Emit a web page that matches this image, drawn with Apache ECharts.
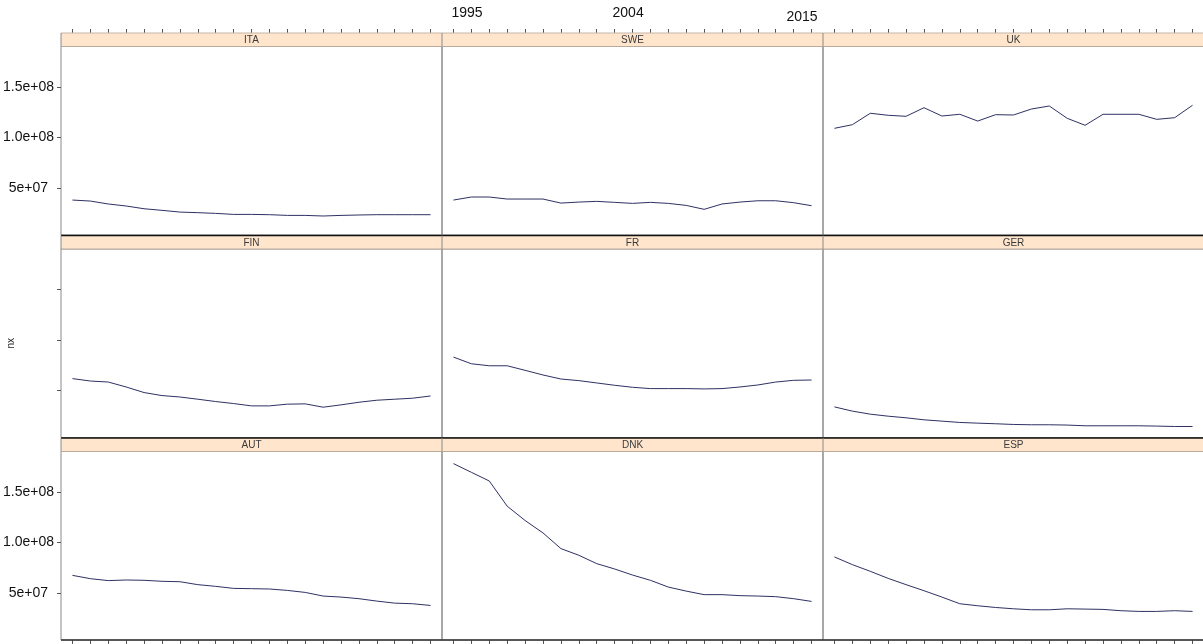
<!DOCTYPE html>
<html>
<head>
<meta charset="utf-8">
<script src="https://cdn.jsdelivr.net/npm/echarts@6/dist/echarts.min.js"></script>
<style>
  html, body { margin: 0; padding: 0; background: #ffffff; }
  #chart { width: 1203px; height: 644px; }
</style>
</head>
<body>
<div id="chart"></div>
<script>
// Yearly nx per country, in millions, 1995-2015
const years = [1995, 1996, 1997, 1998, 1999, 2000, 2001, 2002, 2003, 2004, 2005,
               2006, 2007, 2008, 2009, 2010, 2011, 2012, 2013, 2014, 2015];
const countries = ['ITA', 'SWE', 'UK', 'FIN', 'FR', 'GER', 'AUT', 'DNK', 'ESP'];

const ITA = [38.1, 37.1, 34.2, 32.2, 29.5, 27.9, 26.2, 25.6, 24.9, 23.9, 23.9,
             23.6, 22.9, 22.9, 22.3, 22.9, 23.3, 23.6, 23.6, 23.6, 23.6];
const SWE = [38.1, 41.1, 41.1, 39.1, 39.1, 39.1, 35.1, 36.1, 36.8, 35.8, 34.8,
             35.8, 34.8, 32.8, 28.9, 34.2, 36.1, 37.4, 37.4, 35.5, 32.5];
const UK  = [109.1, 112.7, 124.0, 122.0, 121.0, 129.5, 121.3, 123.0, 116.3, 122.6, 122.3,
             128.2, 131.2, 119.0, 112.1, 123.0, 123.0, 123.0, 118.0, 119.6, 131.9];
const FIN = [61.8, 59.4, 58.4, 53.5, 48.0, 45.0, 43.6, 41.4, 39.1, 37.1, 34.8,
             34.8, 36.5, 36.8, 33.5, 35.8, 38.4, 40.4, 41.4, 42.4, 44.6];
const FR  = [83.1, 76.5, 74.5, 74.5, 70.0, 65.4, 61.4, 59.8, 57.5, 55.2, 53.2,
             51.9, 51.9, 51.9, 51.6, 51.9, 53.5, 55.5, 58.4, 60.1, 60.4];
const GER = [33.8, 29.6, 26.6, 24.6, 23.0, 21.0, 19.7, 18.4, 17.7, 17.1, 16.4,
             16.1, 16.1, 15.8, 15.1, 15.1, 15.1, 15.1, 14.8, 14.4, 14.4];
const AUT = [67.5, 64.2, 62.3, 62.9, 62.6, 61.6, 61.2, 58.3, 56.6, 54.6, 54.3,
             54.0, 52.6, 50.6, 47.0, 46.0, 44.4, 42.0, 40.0, 39.4, 37.7];
const DNK = [178.1, 169.5, 160.9, 136.0, 121.8, 109.5, 94.0, 87.4, 79.1, 73.8, 67.8,
             62.6, 55.9, 51.9, 48.4, 48.4, 47.4, 47.0, 46.4, 44.4, 41.7];
const ESP = [85.7, 78.1, 71.5, 64.5, 58.3, 52.3, 46.0, 39.4, 37.4, 35.7, 34.4,
             33.4, 33.4, 34.4, 34.1, 33.8, 32.5, 31.8, 31.8, 32.5, 31.8];

const seriesValues = [ITA, SWE, UK, FIN, FR, GER, AUT, DNK, ESP];

// Axis ticks and their labels (y in millions)
const yTickValues = [50, 100, 150];
const yTickLabels = ['5e+07', '1.0e+08', '1.5e+08'];
const xTopLabels = [1995, 2004, 2015];

// Panel layout (3 x 3 lattice)
const LEFT0 = 61, PANEL_W = 381;
const TOP0 = 33, ROW_PITCH = 202.5, STRIP_H = 13.5, PLOT_H = 188.5;
const X_MIN = 1994.36, X_MAX = 2015.64;
const Y_MIN = 3.5, Y_MAX = 190.1;
const FONT = '"Liberation Sans", Arial, sans-serif';

const grids = [], xAxes = [], yAxes = [], series = [], graphics = [];

countries.forEach((name, k) => {
  const r = Math.floor(k / 3), c = k % 3;
  const left = LEFT0 + c * PANEL_W;
  const stripTop = TOP0 + r * ROW_PITCH;
  const plotTop = stripTop + STRIP_H;

  grids.push({
    left: left, top: plotTop, width: PANEL_W, height: PLOT_H,
    outerBoundsMode: 'none', containLabel: false,
    show: true, borderColor: '#8a8a8a', borderWidth: 1, backgroundColor: 'transparent'
  });

  const topLabels = (r === 0 && c === 1);
  xAxes.push({
    type: 'value', gridIndex: k, min: X_MIN, max: X_MAX,
    show: r !== 1,
    position: r === 0 ? 'top' : 'bottom',
    offset: r === 0 ? STRIP_H : 0,
    axisLine: { show: false },
    splitLine: { show: false },
    axisTick: { show: true, inside: false, length: 4, customValues: years,
                lineStyle: { color: '#555', width: 1 } },
    axisLabel: {
      show: topLabels,
      customValues: xTopLabels,
      margin: 9,
      formatter: v => (v === 2015 ? '{b|' + v + '}' : '{a|' + v + '}'),
      rich: {
        a: { fontSize: 14, fontFamily: FONT, color: '#111', padding: [0, 0, 4, 27] },
        b: { fontSize: 14, fontFamily: FONT, color: '#111', padding: [0, 19, 0, 0] }
      }
    }
  });

  const leftCol = c === 0;
  yAxes.push({
    type: 'value', gridIndex: k, min: Y_MIN, max: Y_MAX,
    show: leftCol,
    position: 'left',
    name: (leftCol && r === 1) ? 'nx' : '',
    nameLocation: 'middle', nameRotate: 90, nameGap: 45,
    nameTextStyle: { fontSize: 10, fontFamily: FONT, color: '#222' },
    axisLine: { show: false },
    splitLine: { show: false },
    axisTick: { show: true, inside: false, length: 4, customValues: yTickValues,
                lineStyle: { color: '#555', width: 1 } },
    axisLabel: {
      show: r !== 1,
      customValues: yTickValues,
      margin: 7,
      formatter: v => {
        const lab = yTickLabels[yTickValues.indexOf(v)];
        return v === 50 ? '{s|' + lab + '}' : '{n|' + lab + '}';
      },
      rich: {
        n: { fontSize: 14, fontFamily: FONT, color: '#111' },
        s: { fontSize: 14, fontFamily: FONT, color: '#111', padding: [0, 6, 0, 0] }
      }
    }
  });

  series.push({
    type: 'line', name: name, xAxisIndex: k, yAxisIndex: k,
    data: years.map((yr, i) => [yr, seriesValues[k][i]]),
    showSymbol: false, symbol: 'none',
    lineStyle: { color: '#2e3163', width: 1 },
    emphasis: { disabled: true },
    silent: true
  });

  // strip with the country name
  graphics.push({
    type: 'rect', z: 50, silent: true,
    shape: { x: left, y: stripTop, width: PANEL_W, height: STRIP_H },
    style: { fill: '#ffe5cc', stroke: null }
  });
  graphics.push({
    type: 'line', z: 51, silent: true,
    shape: { x1: left, y1: plotTop, x2: left + PANEL_W, y2: plotTop },
    style: { stroke: '#b9aa9c', lineWidth: 1 }
  });
  graphics.push({
    type: 'line', z: 52, silent: true,
    shape: { x1: left, y1: stripTop, x2: left + PANEL_W, y2: stripTop },
    style: { stroke: r === 0 ? '#c4b6a8' : '#111', lineWidth: r === 0 ? 1 : 1.5 }
  });
  graphics.push({
    type: 'text', z: 53, silent: true,
    x: left + PANEL_W / 2, y: stripTop + STRIP_H / 2 + 0.5,
    style: { text: name, fill: '#3a3a3a', fontSize: 10, fontFamily: FONT,
             align: 'center', verticalAlign: 'middle' }
  });
  // panel side borders running through the strip
  graphics.push({
    type: 'line', z: 54, silent: true,
    shape: { x1: left, y1: stripTop, x2: left, y2: plotTop },
    style: { stroke: '#8a8a8a', lineWidth: 1 }
  });
});

// bottom edge of the last row
const bottomY = TOP0 + 2 * ROW_PITCH + STRIP_H + PLOT_H;
graphics.push({
  type: 'line', z: 55, silent: true,
  shape: { x1: LEFT0, y1: bottomY, x2: LEFT0 + 3 * PANEL_W, y2: bottomY },
  style: { stroke: '#333', lineWidth: 1.5 }
});

const chart = echarts.init(document.getElementById('chart'), null, { renderer: 'canvas' });
chart.setOption({
  animation: false,
  backgroundColor: '#ffffff',
  grid: grids,
  xAxis: xAxes,
  yAxis: yAxes,
  series: series,
  graphic: graphics
});
</script>
</body>
</html>
